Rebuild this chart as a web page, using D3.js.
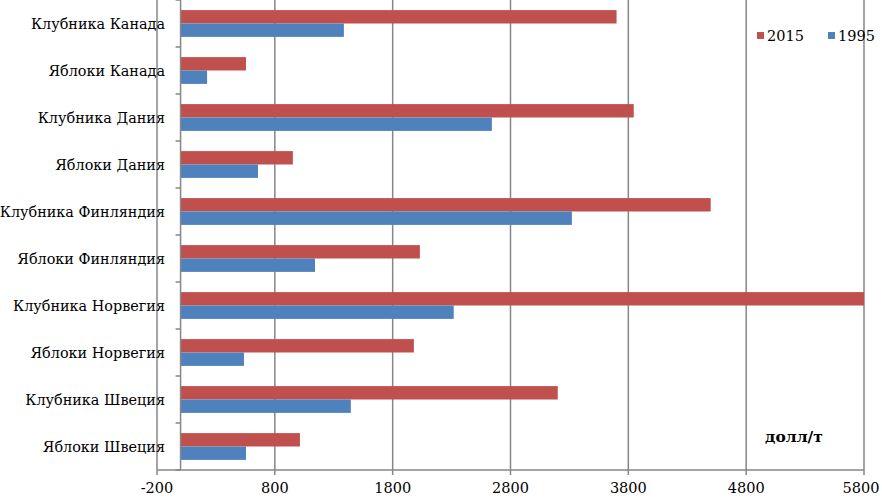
<!DOCTYPE html>
<html><head><meta charset="utf-8">
<script src="https://cdn.jsdelivr.net/npm/d3@7"></script>
<style>body{margin:0;background:#fff}svg{display:block}</style>
</head><body>
<svg id="c" width="882" height="498"></svg>
<script>
const categories = ["Клубника Канада","Яблоки Канада","Клубника Дания","Яблоки Дания","Клубника Финляндия","Яблоки Финляндия","Клубника Норвегия","Яблоки Норвегия","Клубника Швеция","Яблоки Швеция"];
const series = ["2015","1995"];
const values2015 = [3700, 555, 3846, 953, 4499, 2031, 5800, 1980, 3201, 1013];
const values1995 = [1386, 225, 2642, 657, 3321, 1141, 2318, 538, 1445, 555];
const xTicks = [-200, 800, 1800, 2800, 3800, 4800, 5800];
const colors = ["#C0504D", "#4F81BD"];
const unitLabel = "долл/т";

(function(){
const svg = d3.select("#c");
const pLeft = 157, pRight = 864, pTop = 0, pBottom = 470;
const x = d3.scaleLinear().domain([-200, 5800]).range([pLeft, pRight]);
const y = d3.scaleBand().domain(categories).range([pTop, pBottom]).paddingInner(0.43).paddingOuter(0.215);
const ySub = d3.scaleBand().domain(series).range([0, y.bandwidth()]);
const fontSerif = "'DejaVu Serif', serif";
const grid = "#868686";

svg.append("g").selectAll("line").data(xTicks).join("line")
  .attr("x1", d => x(d)).attr("x2", d => x(d))
  .attr("y1", pTop).attr("y2", pBottom + 5)
  .attr("stroke", grid).attr("stroke-width", 1.5);

const rows = categories.map((c, i) => ({c, v: [values2015[i], values1995[i]]}));
const g = svg.append("g");
rows.forEach(r => {
  series.forEach((s, j) => {
    g.append("rect")
      .attr("x", x(0)).attr("y", y(r.c) + ySub(s))
      .attr("width", Math.max(0, Math.min(x(r.v[j]), pRight) - x(0)))
      .attr("height", ySub.bandwidth())
      .attr("fill", colors[j]);
  });
});

svg.append("line").attr("x1", pLeft).attr("x2", pRight).attr("y1", pBottom).attr("y2", pBottom)
  .attr("stroke", grid).attr("stroke-width", 1.5);

svg.append("line").attr("x1", x(0)).attr("x2", x(0)).attr("y1", pTop).attr("y2", pBottom)
  .attr("stroke", grid).attr("stroke-width", 1.5);
const step = y.step();
svg.append("g").selectAll("line").data(d3.range(categories.length + 1)).join("line")
  .attr("x1", x(0) - 5).attr("x2", x(0))
  .attr("y1", d => pTop + d * step).attr("y2", d => pTop + d * step)
  .attr("stroke", grid).attr("stroke-width", 1.5);

svg.append("g").selectAll("text").data(xTicks).join("text")
  .attr("x", d => Math.min(x(d), 861)).attr("y", 493)
  .attr("text-anchor", "middle").attr("font-family", fontSerif).attr("font-size", 14.5)
  .attr("fill", "#000").text(d => d);

svg.append("g").selectAll("text").data(categories).join("text")
  .attr("x", 165).attr("y", d => y(d) + y.bandwidth() / 2 + 5)
  .attr("text-anchor", "end").attr("font-family", fontSerif).attr("font-size", 14.4)
  .attr("fill", "#000").text(d => d);

const lg = svg.append("g");
const legX = [757, 828];
series.forEach((s, j) => {
  lg.append("rect").attr("x", legX[j]).attr("y", 32).attr("width", 7).attr("height", 7).attr("fill", colors[j]);
  lg.append("text").attr("x", legX[j] + 10).attr("y", 41).attr("font-family", fontSerif)
    .attr("font-size", 14.5).attr("fill", "#000").text(s);
});

svg.append("text").attr("x", 794).attr("y", 442).attr("text-anchor", "middle")
  .attr("font-family", fontSerif).attr("font-weight", "bold").attr("font-size", 15.5)
  .attr("fill", "#000").text(unitLabel);
})();
</script>
</body></html>
